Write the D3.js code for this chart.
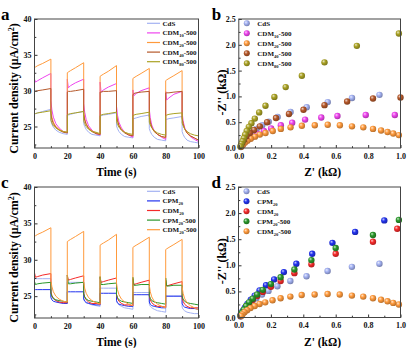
<!DOCTYPE html>
<html>
<head>
<meta charset="utf-8">
<script src="https://cdn.jsdelivr.net/npm/d3@7"></script>
<style>
  body { margin: 0; background: #fff; }
  text { font-family: "Liberation Serif", "Times New Roman", serif; font-weight: bold; }
</style>
</head>
<body>
<div id="wrapper"></div>
<script>
/* global d3 */

// shared time axis for the chopped-light transients (s)
const times = [
  0, 0, 0.6, 2, 5, 10, 10, 10.6, 11.5, 13, 15, 17.5,
  20, 20, 20.6, 22, 25, 30, 30, 30.6, 31.5, 33, 35, 37.5,
  40, 40, 40.6, 42, 45, 50, 50, 50.6, 51.5, 53, 55, 57.5,
  60, 60, 60.6, 62, 65, 70, 70, 70.6, 71.5, 73, 75, 77.5,
  80, 80, 80.6, 82, 85, 90, 90, 90.6, 91.5, 93, 95, 97.5,
  100
]

// panel a current density (uA/cm2)
const cdsA = [
  24.0, 26.7, 26.8, 26.9, 27.1, 27.4, 25.8, 25.3, 24.9, 24.5, 24.2, 24.0,
  23.9, 26.6, 26.6, 26.7, 26.9, 27.1, 25.4, 25.0, 24.6, 24.2, 23.9, 23.8,
  23.7, 26.5, 26.5, 26.6, 26.7, 26.9, 25.1, 24.7, 24.3, 23.9, 23.6, 23.5,
  23.4, 26.1, 26.1, 26.2, 26.4, 26.6, 24.7, 24.3, 23.9, 23.5, 23.2, 23.1,
  23.0, 26.0, 26.0, 26.1, 26.2, 26.4, 24.3, 23.9, 23.5, 23.1, 22.9, 22.8,
  22.7
]
const cdm10A = [
  24.0, 31.6, 31.2, 31.4, 31.8, 32.4, 28.6, 27.3, 26.3, 25.4, 24.8, 24.3,
  24.1, 31.6, 30.4, 30.7, 31.1, 31.6, 28.2, 27.0, 26.0, 25.1, 24.5, 24.0,
  23.8, 31.2, 29.8, 30.1, 30.5, 31.0, 27.8, 26.6, 25.6, 24.8, 24.2, 23.8,
  23.5, 30.1, 29.3, 29.6, 30.0, 30.4, 27.4, 26.2, 25.2, 24.4, 23.9, 23.5,
  23.2, 29.9, 28.7, 29.0, 29.5, 29.9, 27.0, 25.8, 24.9, 24.1, 23.6, 23.2,
  22.9
]
const cdm20A = [
  24.0, 33.2, 33.3, 33.5, 33.8, 34.4, 27.2, 26.3, 25.6, 25.0, 24.6, 24.3,
  24.2, 32.5, 32.6, 32.8, 33.2, 33.9, 27.0, 26.1, 25.4, 24.8, 24.4, 24.1,
  23.9, 32.0, 32.1, 32.3, 32.7, 33.5, 26.8, 25.9, 25.2, 24.6, 24.2, 23.9,
  23.7, 31.7, 31.8, 32.0, 32.4, 33.1, 26.5, 25.6, 24.9, 24.3, 23.9, 23.6,
  23.4, 31.4, 31.5, 31.7, 32.1, 32.8, 26.3, 25.4, 24.7, 24.1, 23.7, 23.4,
  23.1
]
const cdm40A = [
  24.0, 29.9, 29.9, 30.0, 30.1, 30.3, 26.8, 26.0, 25.4, 24.9, 24.5, 24.2,
  24.1, 29.8, 29.9, 29.9, 30.0, 30.2, 26.7, 25.9, 25.3, 24.7, 24.3, 24.0,
  23.9, 29.8, 29.8, 29.9, 29.9, 30.0, 26.6, 25.8, 25.1, 24.5, 24.1, 23.8,
  23.7, 29.4, 29.6, 29.7, 29.8, 29.9, 26.4, 25.6, 24.9, 24.3, 23.9, 23.6,
  23.5, 29.7, 29.7, 29.7, 29.8, 29.9, 26.2, 25.4, 24.7, 24.1, 23.7, 23.4,
  23.1
]
const cdm80A = [
  24.0, 26.7, 26.8, 26.9, 27.0, 27.2, 25.9, 25.5, 25.1, 24.8, 24.5, 24.3,
  24.2, 26.6, 26.7, 26.8, 26.9, 27.1, 25.8, 25.4, 25.0, 24.6, 24.3, 24.2,
  24.0, 26.5, 26.6, 26.7, 26.8, 27.0, 25.7, 25.3, 24.9, 24.5, 24.2, 24.0,
  23.9, 26.5, 26.6, 26.7, 26.8, 27.0, 25.6, 25.2, 24.8, 24.4, 24.1, 23.9,
  23.8, 26.5, 26.6, 26.7, 26.8, 26.9, 25.5, 25.1, 24.7, 24.3, 24.0, 23.8,
  23.7
]

// panel c current density (uA/cm2)
const cdsC = [
  24.0, 27.4, 27.4, 27.4, 27.4, 27.4, 25.0, 24.8, 24.6, 24.4, 24.2, 24.1,
  24.0, 26.9, 26.9, 26.9, 26.9, 26.9, 24.7, 24.4, 24.2, 24.0, 23.8, 23.7,
  23.6, 26.1, 26.1, 26.1, 26.1, 26.1, 24.3, 24.0, 23.8, 23.6, 23.4, 23.3,
  23.2, 25.5, 25.5, 25.5, 25.5, 25.5, 23.9, 23.6, 23.4, 23.2, 23.0, 22.9,
  22.8, 25.1, 25.0, 25.0, 25.0, 25.0, 23.5, 23.2, 23.0, 22.8, 22.7, 22.6,
  22.6
]
const cpm20C = [
  24.0, 25.9, 25.9, 25.9, 25.9, 25.9, 24.8, 24.5, 24.3, 24.2, 24.1, 24.0,
  24.0, 25.6, 25.6, 25.6, 25.6, 25.6, 24.6, 24.3, 24.1, 24.0, 23.9, 23.8,
  23.8, 25.4, 25.4, 25.4, 25.4, 25.4, 24.4, 24.1, 23.9, 23.8, 23.7, 23.6,
  23.6, 25.2, 25.2, 25.2, 25.2, 25.2, 24.2, 23.9, 23.7, 23.6, 23.5, 23.4,
  23.4, 25.0, 25.0, 25.0, 25.0, 25.0, 24.0, 23.7, 23.5, 23.4, 23.3, 23.3,
  23.2
]
const cdm20C = [
  24.0, 28.2, 27.6, 27.7, 27.9, 28.1, 25.6, 25.1, 24.7, 24.4, 24.2, 24.1,
  24.1, 27.9, 27.2, 27.3, 27.5, 27.8, 25.4, 24.9, 24.5, 24.2, 24.0, 24.0,
  23.9, 27.6, 26.9, 27.0, 27.2, 27.5, 25.2, 24.7, 24.3, 24.0, 23.8, 23.8,
  23.7, 27.4, 26.6, 26.7, 26.9, 27.2, 25.0, 24.5, 24.1, 23.8, 23.6, 23.6,
  23.5, 27.2, 26.4, 26.5, 26.7, 27.0, 24.8, 24.3, 23.9, 23.6, 23.4, 23.4,
  23.4
]
const cpm20500C = [
  24.0, 27.0, 26.6, 26.7, 26.8, 26.9, 25.4, 25.0, 24.7, 24.5, 24.4, 24.3,
  24.2, 27.9, 26.7, 26.7, 26.8, 26.9, 25.3, 24.9, 24.6, 24.4, 24.3, 24.2,
  24.1, 27.7, 26.6, 26.6, 26.7, 26.8, 25.2, 24.8, 24.5, 24.3, 24.2, 24.1,
  24.0, 27.6, 26.5, 26.5, 26.6, 26.6, 25.1, 24.7, 24.4, 24.2, 24.1, 24.0,
  23.9, 27.5, 26.4, 26.4, 26.5, 26.5, 25.0, 24.6, 24.3, 24.1, 24.0, 23.9,
  23.8
]

// Nyquist points [Z' (kOhm), -Z'' (kOhm)]
const nyqCdS = [[0.87,1.03],[0.70,0.97],[0.55,0.89],[0.42,0.79],[0.32,0.70],[0.24,0.60],[0.185,0.51],[0.145,0.44],[0.11,0.37],[0.085,0.30],[0.063,0.24],[0.045,0.18],[0.032,0.12],[0.021,0.07],[0.013,0.02]]
const nyqCdm10 = [[0.965,0.64],[0.785,0.64],[0.61,0.62],[0.51,0.59],[0.41,0.55],[0.33,0.49],[0.26,0.44],[0.20,0.38],[0.155,0.33],[0.115,0.27],[0.085,0.22],[0.06,0.17],[0.04,0.12],[0.025,0.07],[0.014,0.03]]
const nyqCdm20_500 = [[0.99,0.25],[0.955,0.28],[0.92,0.31],[0.88,0.34],[0.83,0.37],[0.77,0.40],[0.70,0.42],[0.625,0.44],[0.55,0.45],[0.47,0.44],[0.39,0.43],[0.32,0.40],[0.26,0.37],[0.21,0.33],[0.165,0.29],[0.13,0.26],[0.10,0.22],[0.074,0.18],[0.053,0.14],[0.037,0.10],[0.025,0.06],[0.016,0.03]]
const nyqCdm40 = [[1.0,0.98],[0.83,0.96],[0.67,0.90],[0.53,0.83],[0.40,0.74],[0.31,0.66],[0.23,0.58],[0.175,0.50],[0.13,0.42],[0.095,0.35],[0.068,0.29],[0.047,0.23],[0.033,0.16],[0.021,0.10],[0.012,0.03]]
const nyqCdm80 = [[0.99,2.22],[0.73,1.98],[0.53,1.66],[0.39,1.40],[0.29,1.18],[0.22,0.99],[0.165,0.82],[0.126,0.69],[0.099,0.57],[0.078,0.48],[0.062,0.41],[0.049,0.33],[0.039,0.26],[0.031,0.19],[0.023,0.13],[0.016,0.08],[0.010,0.03]]
const nyqCpm20 = [[0.90,1.86],[0.72,1.64],[0.58,1.43],[0.455,1.22],[0.357,1.03],[0.28,0.87],[0.22,0.73],[0.17,0.62],[0.13,0.52],[0.10,0.42],[0.076,0.34],[0.055,0.26],[0.039,0.19],[0.025,0.12],[0.014,0.06]]
const nyqCdm20 = [[0.98,1.70],[0.83,1.45],[0.60,1.22],[0.45,1.02],[0.345,0.85],[0.26,0.70],[0.20,0.59],[0.15,0.49],[0.115,0.41],[0.088,0.34],[0.065,0.27],[0.047,0.21],[0.033,0.14],[0.022,0.08],[0.013,0.03]]
const nyqCpm20_500 = [[0.99,1.87],[0.83,1.58],[0.60,1.33],[0.45,1.10],[0.345,0.92],[0.26,0.77],[0.20,0.64],[0.15,0.53],[0.115,0.44],[0.088,0.36],[0.065,0.29],[0.047,0.22],[0.033,0.15],[0.022,0.09],[0.013,0.04]]

// legend labels [main, subscript, suffix]
const labelsAB = [["CdS","",""],["CDM","10","-500"],["CDM","20","-500"],["CDM","40","-500"],["CDM","80","-500"]]
const labelsCD = [["CdS","",""],["CPM","20",""],["CDM","20",""],["CPM","20","-500"],["CDM","20","-500"]]

// axis ticks
const timeTicks = [0, 20, 40, 60, 80, 100]
const timeMinor = [10, 30, 50, 70, 90]
const currentTicks = [25, 30, 35, 40]
const currentMinor = [22.5, 27.5, 32.5, 37.5]
const zReTicks = [0, 0.2, 0.4, 0.6, 0.8, 1.0]
const zReMinor = [0.1, 0.3, 0.5, 0.7, 0.9]
const zImTicks = [0, 0.5, 1.0, 1.5, 2.0, 2.5]
const zImMinor = [0.25, 0.75, 1.25, 1.75, 2.25]

const colors = {
  cds: "#a3b1f2", cdm10: "#ee44ee", cdm20_500: "#ff9a3c", cdm40: "#b5582a",
  cdm80: "#aaa224", cpm20: "#2233ee", cdm20: "#f52a2a", cpm20_500: "#2a962a"
}

const svg = d3.select("#wrapper")
  .append("svg")
    .attr("width", 420)
    .attr("height", 348)
    .style("background", "#fff")

const defs = svg.append("defs")
Object.entries(colors).forEach(([k, c]) => {
  const grad = defs.append("radialGradient")
    .attr("id", "ball-" + k)
    .attr("cx", "40%").attr("cy", "40%").attr("r", "60%")
    .attr("fx", "35%").attr("fy", "32%")
  grad.append("stop").attr("offset", "0%").attr("stop-color", d3.interpolateRgb(c, "#fff")(0.75))
  grad.append("stop").attr("offset", "45%").attr("stop-color", c)
  grad.append("stop").attr("offset", "100%").attr("stop-color", d3.color(c).darker(0.9))
})

function drawAxes(xScale, yScale, opts) {
  const [x0, x1] = xScale.range()
  const [y0, y1] = yScale.range()
  const g = svg.append("g")

  g.append("g")
    .attr("transform", `translate(0,${y0})`)
    .call(d3.axisBottom(xScale).tickValues(opts.xTicks).tickSize(-3)
      .tickPadding(5).tickFormat(opts.xFmt))
  g.append("g")
    .attr("transform", `translate(0,${y0})`)
    .call(d3.axisBottom(xScale).tickValues(opts.xMinor).tickSize(-1.8).tickFormat(""))
  g.append("g")
    .attr("transform", `translate(${x0},0)`)
    .call(d3.axisLeft(yScale).tickValues(opts.yTicks).tickSize(-3)
      .tickPadding(3).tickFormat(opts.yFmt))
  g.append("g")
    .attr("transform", `translate(${x0},0)`)
    .call(d3.axisLeft(yScale).tickValues(opts.yMinor).tickSize(-1.8).tickFormat(""))

  g.selectAll(".domain").remove()
  g.selectAll(".tick line").attr("stroke", "#333")
  g.selectAll(".tick text")
    .attr("fill", "#111")
    .style("font-size", "8px")

  g.append("rect")
    .attr("x", x0).attr("y", y1)
    .attr("width", x1 - x0).attr("height", y0 - y1)
    .attr("fill", "none")
    .attr("stroke", "#444")
    .attr("stroke-width", 1)
  return g
}

function addSubLabel(text, lab, size) {
  text.append("tspan").text(lab[0])
  if (lab[1]) {
    text.append("tspan").text(lab[1])
      .style("font-size", (size * 0.65) + "px").attr("dy", 2)
    if (lab[2]) text.append("tspan").text(lab[2]).attr("dy", -2)
  }
}

function drawTransientPanel(cfg) {
  const xScale = d3.scaleLinear().domain([0, 100]).range(cfg.xRange)
  const yScale = d3.scaleLinear().domain([22, 40]).range(cfg.yRange)

  const lineGenerator = d3.line()
    .x(d => xScale(d[0]))
    .y(d => yScale(d[1]))

  const clip = "clip-" + cfg.id
  defs.append("clipPath").attr("id", clip)
    .append("rect")
      .attr("x", cfg.xRange[0]).attr("y", cfg.yRange[1])
      .attr("width", cfg.xRange[1] - cfg.xRange[0])
      .attr("height", cfg.yRange[0] - cfg.yRange[1])

  const lines = svg.append("g").attr("clip-path", `url(#${clip})`)
  cfg.series.forEach(s => {
    lines.append("path")
      .attr("d", lineGenerator(s.values.map((v, i) => [times[i], v])))
      .attr("fill", "none")
      .attr("stroke", colors[s.key])
      .attr("stroke-width", 1)
      .attr("stroke-linejoin", "round")
  })

  drawAxes(xScale, yScale, {
    xTicks: timeTicks, xMinor: timeMinor, xFmt: d3.format("d"),
    yTicks: currentTicks, yMinor: currentMinor, yFmt: d3.format("d")
  })

  // legend
  const leg = svg.append("g")
  cfg.series.forEach((s, i) => {
    const ly = cfg.legendY + i * 9.6
    leg.append("line")
      .attr("x1", cfg.xRange[0] + 112.5).attr("x2", cfg.xRange[0] + 125.5)
      .attr("y1", ly).attr("y2", ly)
      .attr("stroke", colors[s.key]).attr("stroke-width", 1.2)
    const t = leg.append("text")
      .attr("x", cfg.xRange[0] + 128).attr("y", ly + 2.5)
      .style("font-size", "7px").attr("fill", "#111")
    addSubLabel(t, cfg.labels[i], 7)
  })

  // axis titles
  svg.append("text")
    .attr("x", (cfg.xRange[0] + cfg.xRange[1]) / 2)
    .attr("y", cfg.yRange[0] + 28)
    .attr("text-anchor", "middle")
    .style("font-size", "11.5px")
    .text("Time (s)")
  const yt = svg.append("text")
    .attr("transform", `translate(17.5,${(cfg.yRange[0] + cfg.yRange[1]) / 2 + 5}) rotate(-90)`)
    .attr("text-anchor", "middle")
    .style("font-size", "12px")
  yt.append("tspan").text("Current density (μA/cm")
  yt.append("tspan").text("2").style("font-size", "8px").attr("dy", -4)
  yt.append("tspan").text(")").attr("dy", 4)

  svg.append("text")
    .attr("x", 1).attr("y", cfg.yRange[1] + 1)
    .style("font-size", "17px")
    .text(cfg.letter)
}

function drawNyquistPanel(cfg) {
  const xScale = d3.scaleLinear().domain([0, 1]).range(cfg.xRange)
  const yScale = d3.scaleLinear().domain([0, 2.5]).range(cfg.yRange)

  const pts = svg.append("g")
  cfg.series.forEach(s => {
    pts.selectAll(null)
      .data(s.values)
      .join("circle")
        .attr("cx", d => xScale(d[0]))
        .attr("cy", d => yScale(d[1]))
        .attr("r", 3.2)
        .attr("fill", `url(#ball-${s.key})`)
  })

  drawAxes(xScale, yScale, {
    xTicks: zReTicks, xMinor: zReMinor, xFmt: d3.format(".1f"),
    yTicks: zImTicks, yMinor: zImMinor, yFmt: d3.format(".1f")
  })

  const leg = svg.append("g")
  cfg.series.forEach((s, i) => {
    const ly = cfg.legendY + i * 10
    leg.append("circle")
      .attr("cx", cfg.xRange[0] + 8).attr("cy", ly).attr("r", 3)
      .attr("fill", `url(#ball-${s.key})`)
    const t = leg.append("text")
      .attr("x", cfg.xRange[0] + 18.5).attr("y", ly + 2.5)
      .style("font-size", "7px").attr("fill", "#111")
    addSubLabel(t, cfg.labels[i], 7)
  })

  svg.append("text")
    .attr("x", (cfg.xRange[0] + cfg.xRange[1]) / 2 + 3)
    .attr("y", cfg.yRange[0] + 28)
    .attr("text-anchor", "middle")
    .style("font-size", "11.5px")
    .text("Z' (kΩ)")
  svg.append("text")
    .attr("transform", `translate(${cfg.xRange[0] - 13},${(cfg.yRange[0] + cfg.yRange[1]) / 2 + 9}) rotate(-90)`)
    .attr("text-anchor", "middle")
    .style("font-size", "12px")
    .text("-Z'' (kΩ)")

  svg.append("text")
    .attr("x", cfg.xRange[0] - 27).attr("y", cfg.yRange[1] + 1)
    .style("font-size", "17px")
    .text(cfg.letter)
}

drawTransientPanel({
  id: "a", letter: "a", xRange: [34.5, 198.5], yRange: [148, 19], legendY: 23.3,
  labels: labelsAB,
  series: [
    { key: "cds", values: cdsA },
    { key: "cdm10", values: cdm10A },
    { key: "cdm20_500", values: cdm20A },
    { key: "cdm40", values: cdm40A },
    { key: "cdm80", values: cdm80A }
  ]
})

drawTransientPanel({
  id: "c", letter: "c", xRange: [34.5, 198.5], yRange: [318, 187], legendY: 191.3,
  labels: labelsCD,
  series: [
    { key: "cds", values: cdsC },
    { key: "cpm20", values: cpm20C },
    { key: "cdm20", values: cdm20C },
    { key: "cpm20_500", values: cpm20500C },
    { key: "cdm20_500", values: cdm20A }
  ]
})

drawNyquistPanel({
  letter: "b", xRange: [238.8, 400.5], yRange: [148, 19], legendY: 23.3,
  labels: labelsAB,
  series: [
    { key: "cds", values: nyqCdS },
    { key: "cdm10", values: nyqCdm10 },
    { key: "cdm20_500", values: nyqCdm20_500 },
    { key: "cdm40", values: nyqCdm40 },
    { key: "cdm80", values: nyqCdm80 }
  ]
})

drawNyquistPanel({
  letter: "d", xRange: [238.5, 400.5], yRange: [317.5, 187], legendY: 191.3,
  labels: labelsCD,
  series: [
    { key: "cds", values: nyqCdS },
    { key: "cpm20", values: nyqCpm20 },
    { key: "cdm20", values: nyqCdm20 },
    { key: "cpm20_500", values: nyqCpm20_500 },
    { key: "cdm20_500", values: nyqCdm20_500 }
  ]
})
</script>
</body>
</html>
